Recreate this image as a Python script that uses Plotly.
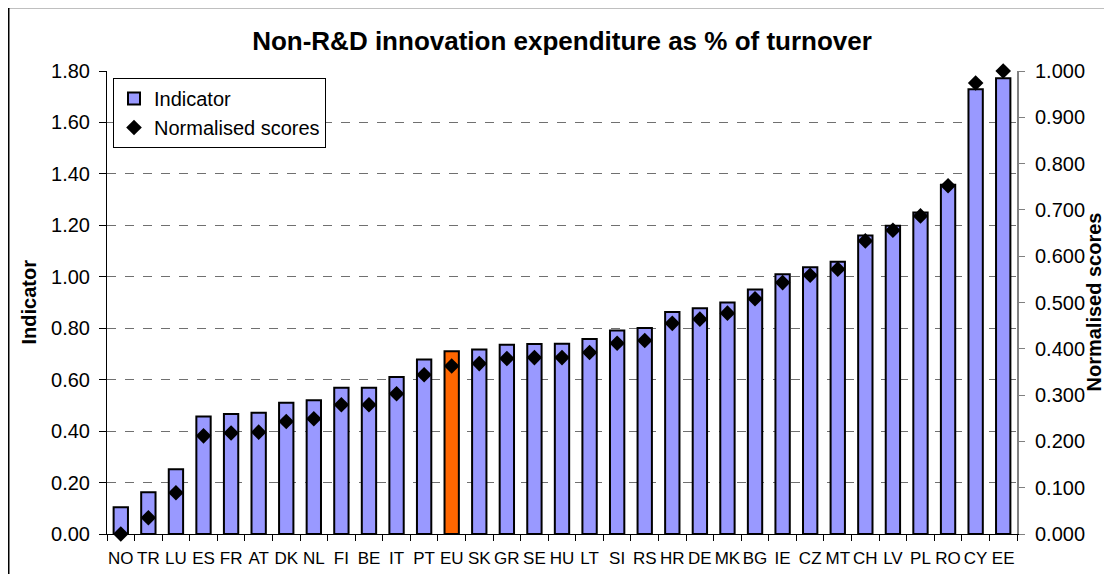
import plotly.graph_objects as go

categories = ["NO", "TR", "LU", "ES", "FR", "AT", "DK", "NL", "FI", "BE", "IT", "PT", "EU",
              "SK", "GR", "SE", "HU", "LT", "SI", "RS", "HR", "DE", "MK", "BG", "IE", "CZ",
              "MT", "CH", "LV", "PL", "RO", "CY", "EE"]
indicator = [0.104, 0.162, 0.252, 0.457, 0.467, 0.471, 0.510, 0.520, 0.569, 0.569, 0.610,
             0.678, 0.710, 0.717, 0.736, 0.739, 0.740, 0.758, 0.791, 0.801, 0.863, 0.878,
             0.900, 0.951, 1.010, 1.037, 1.058, 1.160, 1.198, 1.250, 1.358, 1.729, 1.772]
scores = [0.000, 0.035, 0.089, 0.212, 0.218, 0.220, 0.243, 0.249, 0.279, 0.279, 0.303,
          0.344, 0.363, 0.368, 0.379, 0.381, 0.381, 0.392, 0.412, 0.418, 0.455, 0.464,
          0.477, 0.508, 0.543, 0.559, 0.572, 0.633, 0.656, 0.687, 0.752, 0.974, 1.000]
highlight = "EU"

left_ticks = [0.0, 0.2, 0.4, 0.6, 0.8, 1.0, 1.2, 1.4, 1.6, 1.8]
right_ticks = [0.0, 0.1, 0.2, 0.3, 0.4, 0.5, 0.6, 0.7, 0.8, 0.9, 1.0]

FONT = "Liberation Sans, Arial, sans-serif"
BAR = "#9999FF"
HL = "#FF6600"

bar_colors = [HL if c == highlight else BAR for c in categories]

fig = go.Figure()
fig.add_trace(go.Bar(
    x=categories, y=indicator, name="Indicator",
    marker=dict(color=bar_colors, line=dict(color="black", width=2)),
    width=0.52, yaxis="y",
))
fig.add_trace(go.Scatter(
    x=categories, y=scores, name="Normalised scores", mode="markers",
    marker=dict(symbol="diamond", color="black", size=12),
    yaxis="y2", cliponaxis=False,
))

# the page adds an 8px body margin, so figure coords = screen coords - 8
W, H = 1104, 566
L, R, T, B = 99, 95, 63, 40
pw = W - L - R
ph = H - T - B

def px_x(x):
    return (x - L) / pw

def px_y(y):
    return (H - B - y) / ph

fig.update_layout(
    width=W, height=H,
    margin=dict(l=L, r=R, t=T, b=B, autoexpand=False),
    paper_bgcolor="white", plot_bgcolor="white",
    font=dict(family=FONT, size=18, color="black"),
    showlegend=True,
    bargap=0.48,
    title=dict(text="<b>Non-R&D innovation expenditure as % of turnover</b>",
               x=0.5, xref="paper", xanchor="center",
               y=1 - 33 / H, yref="container", yanchor="middle",
               font=dict(family=FONT, size=26, color="black")),
    xaxis=dict(
        type="category", showgrid=False, showline=True, linecolor="black", linewidth=1,
        ticks="outside", ticklen=6, tickcolor="black", tickson="boundaries",
        ticklabelstandoff=9,
        tickangle=0, tickfont=dict(size=17), range=[-0.5, len(categories) - 0.5],
    ),
    yaxis=dict(
        range=[0, 1.8], tickvals=left_ticks, tickformat=".2f",
        showline=True, linecolor="black", linewidth=1,
        ticks="outside", ticklen=7, tickcolor="black", ticklabelstandoff=5,
        showgrid=True, gridcolor="#707070", gridwidth=1, griddash="dash",
        zeroline=False, tickfont=dict(size=20),
    ),
    yaxis2=dict(
        range=[0, 1.0], tickvals=right_ticks, tickformat=".3f",
        overlaying="y", side="right", showgrid=False,
        showline=True, linecolor="#808080", linewidth=2,
        ticks="outside", ticklen=6, tickcolor="#808080", ticklabelstandoff=6,
        zeroline=False, tickfont=dict(size=20),
    ),
    legend=dict(
        x=px_x(105), y=px_y(70), xanchor="left", yanchor="top",
        bgcolor="white", bordercolor="black", borderwidth=1,
        font=dict(size=20), tracegroupgap=8,
    ),
    annotations=[
        dict(text="<b>Indicator</b>", textangle=-90, xref="paper", yref="paper",
             x=px_x(20), y=0.5, xanchor="center", yanchor="middle", showarrow=False,
             font=dict(size=20)),
        dict(text="<b>Normalised scores</b>", textangle=-90, xref="paper", yref="paper",
             x=px_x(1085), y=0.5, xanchor="center", yanchor="middle", showarrow=False,
             font=dict(size=20)),
    ],
    shapes=[
        dict(type="rect", xref="paper", yref="paper",
             x0=px_x(0.75), x1=px_x(1130), y0=px_y(600), y1=px_y(-0.5),
             line=dict(color="black", width=1.5), fillcolor="rgba(0,0,0,0)", layer="below"),
    ],
)

fig.write_html("out.html")
